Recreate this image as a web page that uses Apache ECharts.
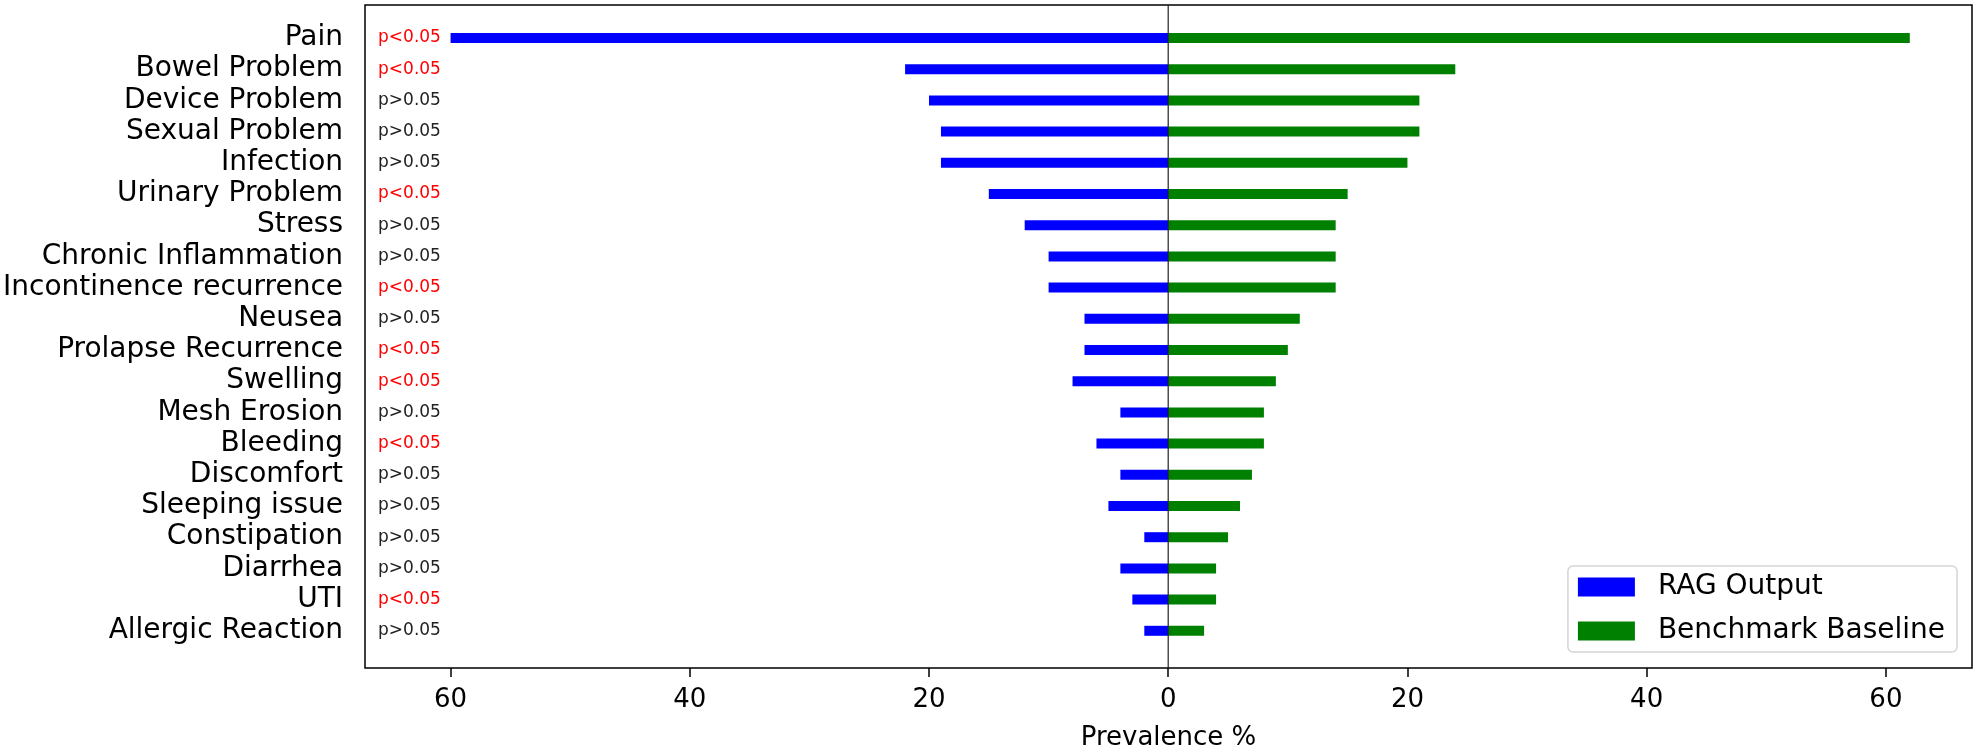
<!DOCTYPE html>
<html>
<head>
<meta charset="utf-8">
<script src="https://cdn.jsdelivr.net/npm/echarts@6/dist/echarts.min.js"></script>
<style>
html,body{margin:0;padding:0;background:#fff;}
#chart{width:1978px;height:756px;}
</style>
</head>
<body>
<div id="chart"></div>
<script>
const categories = ["Pain","Bowel Problem","Device Problem","Sexual Problem","Infection","Urinary Problem","Stress","Chronic Inflammation","Incontinence recurrence","Neusea","Prolapse Recurrence","Swelling","Mesh Erosion","Bleeding","Discomfort","Sleeping issue","Constipation","Diarrhea","UTI","Allergic Reaction"];
const ragOutput = [60,22,20,19,19,15,12,10,10,7,7,8,4,6,4,5,2,4,3,2];
const benchmarkBaseline = [62,24,21,21,20,15,14,14,14,11,10,9,8,8,7,6,5,4,4,3];
const pLabels = ["p<0.05","p<0.05","p>0.05","p>0.05","p>0.05","p<0.05","p>0.05","p>0.05","p<0.05","p>0.05","p<0.05","p<0.05","p>0.05","p<0.05","p>0.05","p>0.05","p>0.05","p>0.05","p<0.05","p>0.05"];
const xTicks = [-60,-40,-20,0,20,40,60];
const xRange = [-67.15, 67.2];

const FONT = 'DejaVu Sans';
const chart = echarts.init(document.getElementById('chart'), null, {renderer:'canvas'});
chart.setOption({
  animation:false,
  backgroundColor:'#fff',
  textStyle:{fontFamily:FONT},
  grid:[
    {left:365, right:6, top:5, bottom:88, show:true, borderColor:'#000', borderWidth:1.5, backgroundColor:'transparent'},
    {left:365, right:6, top:22.4, bottom:109.6}
  ],
  xAxis:[
    {type:'value', gridIndex:0, min:xRange[0], max:xRange[1],
     axisLine:{show:false}, splitLine:{show:false},
     axisTick:{show:true, length:9, customValues:xTicks, lineStyle:{color:'#000', width:1.5}},
     axisLabel:{customValues:xTicks, formatter:v=>String(Math.abs(v)), fontSize:26, color:'#000', margin:19, fontFamily:FONT},
     name:'Prevalence %', nameLocation:'middle', nameGap:57,
     nameTextStyle:{fontSize:26, color:'#000', fontFamily:FONT}},
    {type:'value', gridIndex:1, min:xRange[0], max:xRange[1], show:false, splitLine:{show:false}}
  ],
  yAxis:[
    {type:'value', gridIndex:0, min:0, max:1, show:false, splitLine:{show:false}},
    {type:'category', gridIndex:1, data:categories, inverse:true,
     axisLine:{show:false}, splitLine:{show:false},
     axisTick:{show:true, alignWithLabel:true, interval:0, length:10, lineStyle:{color:'#000', width:1.5}},
     axisLabel:{interval:0, fontSize:28, color:'#000', margin:22, fontFamily:FONT, padding:[6,0,0,0]}},
    {type:'category', gridIndex:1, data:categories, inverse:true, position:'left',
     axisLine:{show:false}, axisTick:{show:false}, splitLine:{show:false},
     axisLabel:{interval:0, inside:true, margin:13, fontSize:17, fontFamily:FONT,
       formatter:(v,i)=>pLabels[categories.indexOf(v)],
       color:(v)=> (pLabels[categories.indexOf(v)]==='p<0.05' ? '#ff0000' : '#222222')}}
  ],
  legend:{
    data:['RAG Output','Benchmark Baseline'],
    orient:'vertical', right:21, bottom:104,
    icon:'rect', itemWidth:57, itemHeight:19, itemGap:16,
    padding:[7,12,7,10],
    borderColor:'#d5d5d5', borderWidth:1.5, borderRadius:5,
    backgroundColor:'rgba(255,255,255,0.85)',
    textStyle:{fontSize:28, color:'#000', fontFamily:FONT, padding:[0,0,0,18]}
  },
  series:[
    {name:'zero', type:'line', xAxisIndex:0, yAxisIndex:0, data:[[0,0],[0,1]],
     symbol:'none', lineStyle:{color:'#222', width:1.2}, silent:true, z:5},
    {name:'RAG Output', type:'bar', xAxisIndex:1, yAxisIndex:1,
     data:ragOutput.map(v=>-v), barWidth:10, barGap:'-100%',
     itemStyle:{color:'#0000ff'}, z:3},
    {name:'Benchmark Baseline', type:'bar', xAxisIndex:1, yAxisIndex:1,
     data:benchmarkBaseline, barWidth:10, barGap:'-100%',
     itemStyle:{color:'#008000'}, z:3}
  ]
});
</script>
</body>
</html>
